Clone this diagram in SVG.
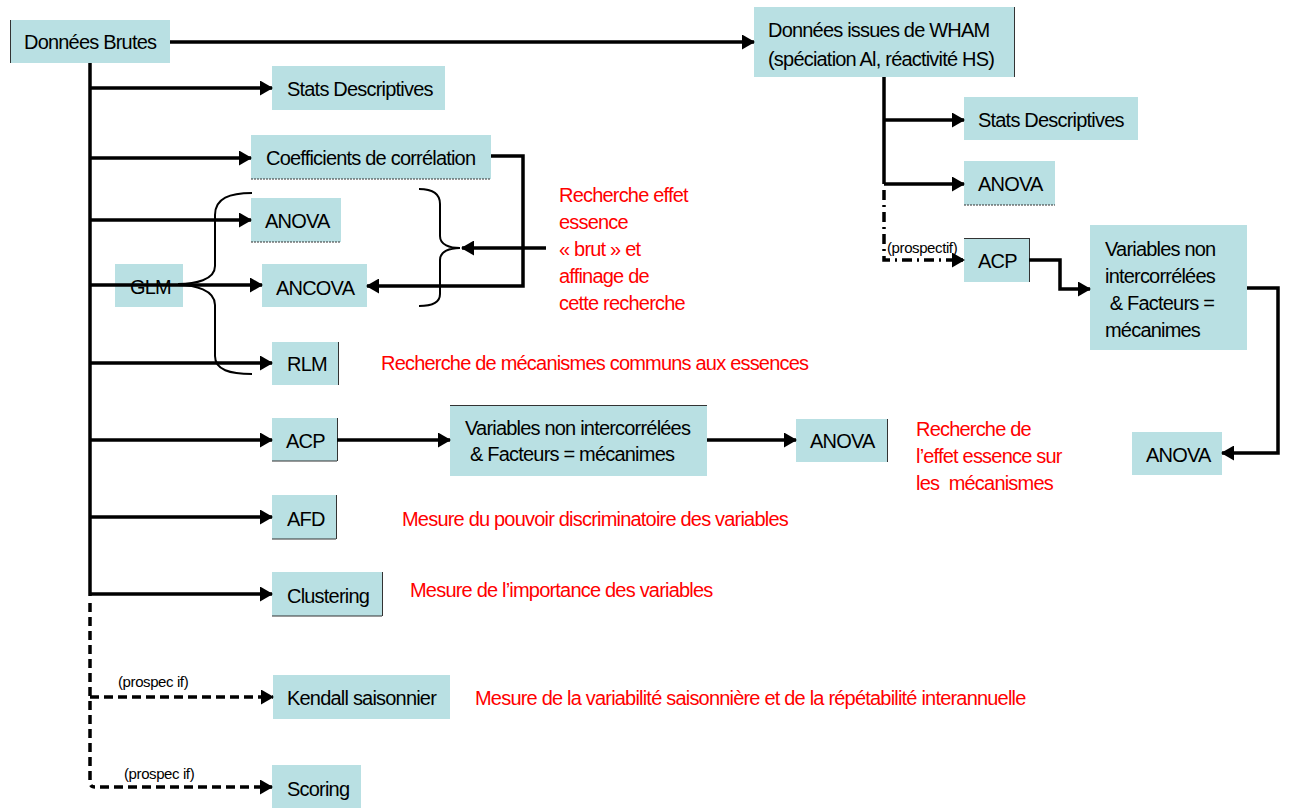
<svg xmlns="http://www.w3.org/2000/svg" width="1291" height="808" viewBox="0 0 1291 808">
<style>
.box{fill:#b9e0e3}
.edge{stroke:#333;stroke-width:1;fill:none}
.t{font-family:"Liberation Sans",Arial,sans-serif;font-size:20px;letter-spacing:-0.8px;fill:#000;white-space:pre}
.r{font-family:"Liberation Sans",Arial,sans-serif;font-size:20px;letter-spacing:-0.8px;fill:#ff0000;white-space:pre}
.s{font-family:"Liberation Sans",Arial,sans-serif;font-size:15px;letter-spacing:-0.4px;fill:#000}
.c{stroke:#000;stroke-width:3.5;fill:none}
.cd{stroke:#000;stroke-width:3.5;fill:none;stroke-dasharray:9,5}
.cdd{stroke:#000;stroke-width:3.5;fill:none;stroke-dasharray:10,5,2,5}
.br{stroke:#000;stroke-width:2;fill:none}
.a{marker-end:url(#ah)}
</style>
<defs>
<marker id="ah" markerUnits="userSpaceOnUse" markerWidth="13" markerHeight="15" refX="12" refY="7.5" orient="auto">
<path d="M0,0 L13,7.5 L0,15 z" fill="#000"/>
</marker>
</defs>
<rect width="1291" height="808" fill="#fff"/>

<g id="n-brutes"><rect class="box" x="10" y="20" width="160" height="43"/><line class="edge" x1="10.5" y1="20" x2="10.5" y2="63"/><text class="t" x="24" y="49">Données Brutes</text></g>
<g id="n-stats1"><rect class="box" x="272" y="66" width="173" height="44"/><text class="t" x="287" y="96">Stats Descriptives</text></g>
<g id="n-coef"><rect class="box" x="251" y="135" width="240" height="44"/><line class="edge" x1="251" y1="179" x2="491" y2="179" stroke-dasharray="2,1"/><text class="t" x="266" y="165">Coefficients de corrélation</text></g>
<g id="n-anova1"><rect class="box" x="251" y="198" width="90" height="44"/><line class="edge" x1="251" y1="242" x2="341" y2="242" stroke-dasharray="2,1"/><text class="t" x="265" y="228">ANOVA</text></g>
<g id="n-glm"><rect class="box" x="115" y="264" width="68" height="43"/><text class="t" x="130" y="294">GLM</text></g>
<g id="n-ancova"><rect class="box" x="262" y="264" width="105" height="43"/><text class="t" x="276" y="295">ANCOVA</text></g>
<g id="n-rlm"><rect class="box" x="272" y="342" width="66" height="43"/><line class="edge" x1="338.5" y1="342" x2="338.5" y2="385"/><text class="t" x="287" y="371">RLM</text></g>
<g id="n-acp1"><rect class="box" x="272" y="418" width="65" height="43"/><line class="edge" x1="337.5" y1="418" x2="337.5" y2="461"/><line class="edge" x1="272" y1="461" x2="337" y2="461"/><text class="t" x="286" y="448">ACP</text></g>
<g id="n-var1"><rect class="box" x="450" y="405" width="257" height="71"/><line class="edge" x1="450" y1="405.5" x2="707" y2="405.5"/><text class="t" x="465" y="435">Variables non intercorrélées</text><text class="t" x="470" y="461">&amp; Facteurs = mécanimes</text></g>
<g id="n-anova2"><rect class="box" x="796" y="419" width="91" height="43"/><line class="edge" x1="887.5" y1="419" x2="887.5" y2="462"/><text class="t" x="810" y="448">ANOVA</text></g>
<g id="n-afd"><rect class="box" x="272" y="495" width="64" height="44"/><line class="edge" x1="336.5" y1="495" x2="336.5" y2="539"/><line class="edge" x1="272" y1="539" x2="336" y2="539"/><text class="t" x="287" y="526">AFD</text></g>
<g id="n-clust"><rect class="box" x="272" y="572" width="110" height="44"/><line class="edge" x1="382.5" y1="572" x2="382.5" y2="616"/><line class="edge" x1="272" y1="616" x2="382" y2="616"/><text class="t" x="287" y="603">Clustering</text></g>
<g id="n-kendall"><rect class="box" x="273" y="675" width="177" height="44"/><text class="t" x="287" y="705">Kendall saisonnier</text></g>
<g id="n-scoring"><rect class="box" x="272" y="765" width="89" height="43"/><text class="t" x="287" y="796">Scoring</text></g>
<g id="n-wham"><rect class="box" x="754" y="7" width="260" height="70"/><line class="edge" x1="1014.5" y1="7" x2="1014.5" y2="77"/><text class="t" x="768" y="37">Données issues de WHAM</text><text class="t" x="768" y="66">(spéciation Al, réactivité HS)</text></g>
<g id="n-stats2"><rect class="box" x="964" y="97" width="174" height="43"/><text class="t" x="978" y="127">Stats Descriptives</text></g>
<g id="n-anova3"><rect class="box" x="964" y="161" width="91" height="44"/><line class="edge" x1="964" y1="205" x2="1055" y2="205" stroke-dasharray="2,1"/><text class="t" x="978" y="191">ANOVA</text></g>
<g id="n-acp2"><rect class="box" x="964" y="238" width="65" height="44"/><line class="edge" x1="1029.5" y1="238" x2="1029.5" y2="282"/><line class="edge" x1="964" y1="238.5" x2="1029" y2="238.5"/><text class="t" x="978" y="268">ACP</text></g>
<g id="n-var2"><rect class="box" x="1090" y="225" width="157" height="125"/><text class="t" x="1105" y="256">Variables non</text><text class="t" x="1105" y="283">intercorrélées</text><text class="t" x="1105" y="310" xml:space="preserve"> &amp; Facteurs =</text><text class="t" x="1105" y="337">mécanimes</text></g>
<g id="n-anova4"><rect class="box" x="1132" y="432" width="90" height="43"/><text class="t" x="1146" y="462">ANOVA</text></g>

<g id="notes">
<text class="r" x="559" y="202">Recherche effet</text>
<text class="r" x="559" y="229">essence</text>
<text class="r" x="559" y="256">« brut » et</text>
<text class="r" x="559" y="283">affinage de</text>
<text class="r" x="559" y="310">cette recherche</text>
<text class="r" x="381" y="370">Recherche de mécanismes communs aux essences</text>
<text class="r" x="916" y="436">Recherche de</text>
<text class="r" x="916" y="463">l’effet essence sur</text>
<text class="r" x="916" y="490" xml:space="preserve">les  mécanismes</text>
<text class="r" x="402" y="526">Mesure du pouvoir discriminatoire des variables</text>
<text class="r" x="410" y="597">Mesure de l’importance des variables</text>
<text class="r" x="475" y="705">Mesure de la variabilité saisonnière et de la répétabilité interannuelle</text>
</g>

<g id="connectors">
<path class="c a" d="M170,42 H754"/>
<path class="c" d="M90,63 V596"/>
<path class="c a" d="M90,88 H272"/>
<path class="c a" d="M90,158 H251"/>
<path class="c a" d="M90,220 H251"/>
<path class="c a" d="M90,285 H262"/>
<path class="c a" d="M90,363 H272"/>
<path class="c a" d="M90,440 H272"/>
<path class="c a" d="M90,517 H272"/>
<path class="c a" d="M90,594 H272"/>
<path class="cd" d="M90,603 V782 Q90,787 95,787"/>
<path class="cd a" d="M100,787 H272"/>
<path class="cd a" d="M90,697 H273"/>
<path class="c a" d="M491,156 H523 V286 H367"/>
<path class="c a" d="M546,248 H462"/>
<path class="c" d="M337,440 H395" stroke-width="2.5"/>
<path class="c a" d="M395,440 H450" stroke-width="4"/>
<path class="c a" d="M707,440 H796"/>
<path class="c" d="M884,77 V184"/>
<path class="c a" d="M884,120 H964"/>
<path class="c a" d="M884,184 H964"/>
<path class="cdd a" d="M884,190 V260 H964"/>
<path class="c a" d="M1029,260 H1060 V289 H1090"/>
<path class="c a" d="M1247,288 H1278 V453 H1222"/>
<path class="br" d="M252,193 C230,193 215,198 215,215 V266 C215,280 195,284 178,284"/>
<path class="br" d="M178,285 C195,285 215,290 215,305 V356 C215,370 230,374 252,374"/>
<path class="br" d="M419,189 C432,189 440,193 440,204 V236 C440,245 450,248 460,248 C450,248 440,251 440,260 V294 C440,303 432,306 419,306"/>
<text class="s" x="118" y="687">(prospec if)</text>
<text class="s" x="124" y="779">(prospec if)</text>
<text class="s" x="887" y="253">(prospectif)</text>
</g>
</svg>
